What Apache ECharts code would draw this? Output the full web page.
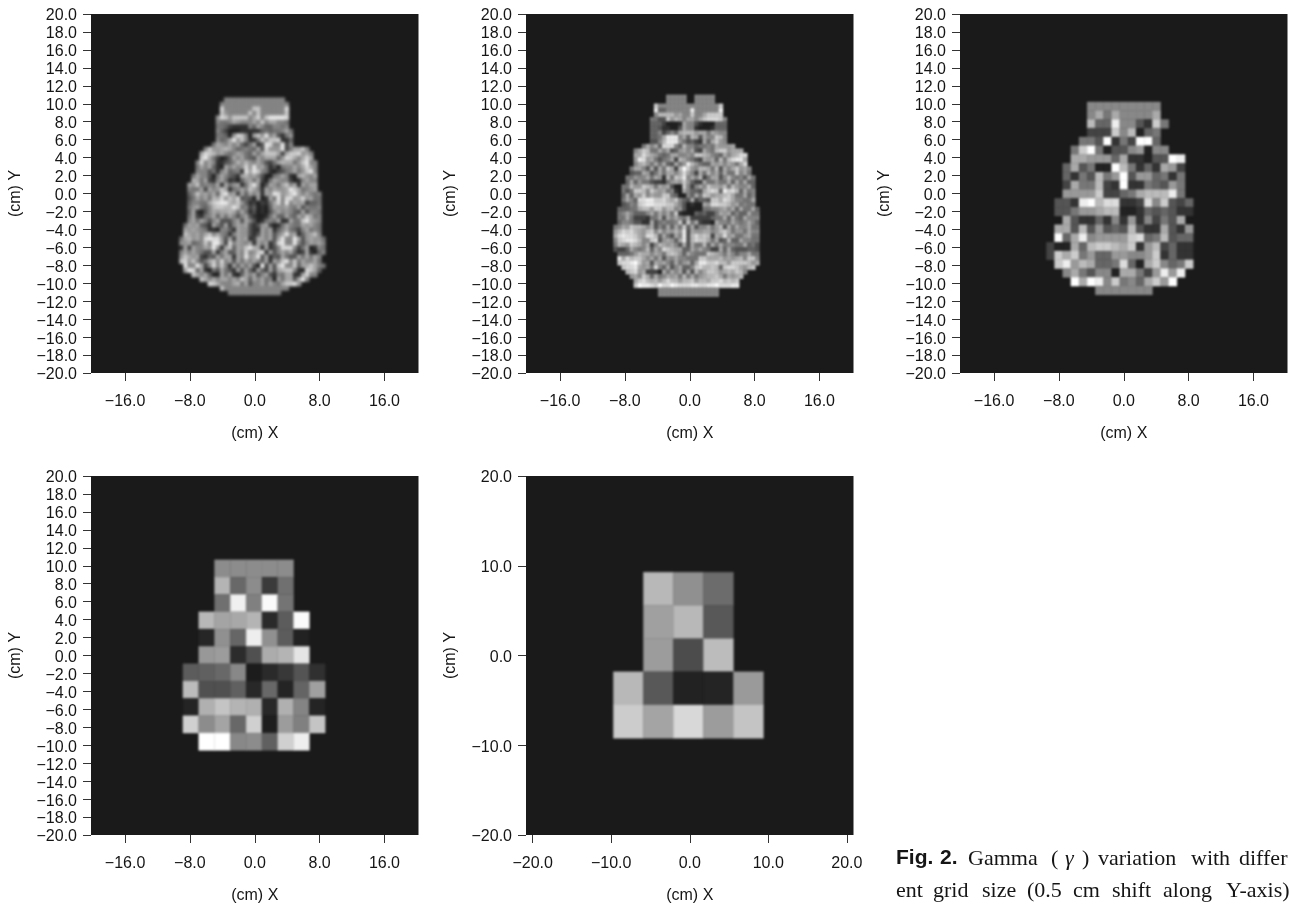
<!DOCTYPE html>
<html>
<head>
<meta charset="utf-8">
<style>
html,body{margin:0;padding:0;background:#fff;overflow:hidden}
#chart{width:1289px;height:907px}
#chart canvas:nth-of-type(2){filter:blur(1px)}
#chart canvas:nth-of-type(3){filter:blur(1.4px)}
</style>
<script src="https://cdn.jsdelivr.net/npm/echarts@6/dist/echarts.min.js"></script>
</head>
<body>
<div id="chart"></div>
<script>
// Grey level of each cell. One hex digit per cell, blank = no cell, "_" only groups digits.
const grid025Rows = [
"           888888_888888_888",
"          888888_888888_88888",
"          d88888_88cc88_8888d",
"          c98888_8c8c88_8888c",
"         9dc9cc_cc8ad8_ceeeed",
"         8778a9_888a8c_8aa887",
"         776433_3386a8_668878",
"         864222_333336_76778a7",
"         77629d_c82ac9_e8a5379",
"         867ae9_c8337c_9ccd336",
"        7a98a8_a647a3_5ed88e_48",
"      8c99ab_a86787_6a5d99_9e47aa_c8",
"     adcb9a_878a97_6a7acc_ca4acc_d9a8",
"     cea742_36a8a7_65a8aa_a69dca_8ada",
"    8d8a83_3568b9_b98a85_47abaa_79ce88",
"    7a8a63_2a8a89_d9e9a7_352788_a8ada8",
"    888573_8a6783_eaec87_324578_a79ce8",
"   7a8852_7a8653_ab9a85_2278a8_32ab98_a",
"   ba7a43_8a7342_69a7a4_27a988_4238a8_8",
"  a9c788_7a3a79_a37be9_25a97a_c8a3a8_aa",
"  877a4a_89ca37_8a8ca8_3a8a99_aeca78_9a",
"  68c9a8_a6ce9a_4a6a8a_3a9ed9_acea8a_878",
"  57a8a7_bad9ca_d5652a_23a7e8_dd9ad9_a77",
"  68877a_cdeeba_c96342_437ad8_e8a9a4_667",
"  79a768_bccbbe_c78462_326a99_a87a58_778",
"  6a3258_a9aaba_7a7352_3258a8_9865a5_887",
"  7a4378_a6a7a8_58a532_237a66_a76a8c_a78",
"  8a7a85_8a5558_a5a852_3787a3_3a77ce_a98",
" 7a9a65_3a75a4_8a9a53_59a423_7a877a_9a87",
" a9a987_332886_3a9953_3a8a36_8a7648_a787",
" ca9a8a_c8a873_8a9953_5a8a58_ae9a36_9ac8",
"7ab9a8_dedd95_a4a9a3_4aa8a5_ae88ea_59a997",
"99a678_c8eea4_d8a98a_3a8a36_de88e8_58a9a8",
"3a4a88_a9e93a_c6a9ce_ba3a35_8ddd84_7a2387",
"8a8a87_55a38a_56a8d8_9ce3a5_8a8a63_4a3268",
"9ca9a4_365a7a_a3a8e9_ae5a36_5a755a_7a7a8",
"cd9c85_7ac8d8_a5a7a8_a86a3a_8ce8c7_a88a7",
" e88ea4_8d8c83_a6a7a5_2f4a5c_e88c6a_aca87",
" aed6a3_275a75_3a5a63_a64a5a_bcc832_dca6",
"   ca8a62_2a7a32_6a8a58_a5387a_a33ad8_8",
"     ca8a8a_a8a8ca_6a8a78_2a7aa5_ae8",
"       dca888_ab7a58_8a7a87_accd9",
"          c88888_888888_88888",
"            888888_888888_8"
];
const grid05Rows = [
"             88888  88888",
"             88888  88888",
"          c88888_888888_8888c",
"          e66888_888e88_8888e",
"          8bbbb9_a88c88_acccc",
"         7755c9_ba8aa8_acdddc8",
"         666422_23a885_3222666",
"         665332_25a883_2223666",
"         668468_6abbb9_aa7a988",
"         667aee_e8a6ba_5a88cb8",
"         558bee_e97564_3a6ac98",
"       7a8a6d_dd86b8_867787_a999a",
"     8acb77_a8a569_a8a54a_87bcc9_aaa",
"     aadba9_767aa8_898ccb_a876a8_abdd",
"     9ed9a7_578a4b_a8754a_9a6b7b_deea",
"     8ab97a_7a65a7_9eb976_6a9a8a_97ad",
"    7aa85a_5a7ca4_bfc98b_ba7b5a_8ac9a8",
"    566a95_7a7aa8_ada84a_7b8a6a_77c8a7",
"   77988a_7a93b7_cbe8a8_b47aa5_8b8786_a7",
"   6a6977_544379_a9c964_4a7797_7a6a7a_66",
"  77b99c_ba7a9a_522c84_8a8caa_9b7b98_8a6",
"  757ccb_8ca9a7_832a86_65acdc_6ecdb6_a78",
"  6a6a9c_8a99cc_762286_a7cb9a_abca77_a68",
"  7a86dd_eeccdb_ac865a_4665cc_adca88_77a",
"  5687cd_eedddc_ca8523_22a9dd_ccb9a7_877",
" 66677a_bb9cc9_bb8952_222778_89a8a6_a77a6",
" 78a866_68a7a8_a7c322_265644_7a9a68_66a77",
" 77a744_4377a5_a8a87a_444446_77a6a7_6a888",
" 688755_33a578_778c5c_7a4332_a887a8_78a86",
"78a9cb_ba8a58_6a6a7c_6a588a_79b5a7_a88a77",
"9bdcdb_a9bc8b_8a9b9e_5a99aa_89bca7_997a88",
"adeddc_a9ddb6_a75a8e_5bdbcb_4a9d9a_779a77",
"8cdeed_b88cd5_9a96ae_5bdcca_7a56b6_6a8877",
"7ba9cb_a8a48b_a9a85a_5a77b6_a7a788_77a675",
"5446a8_78b6a8_dcbaa6_6a8a87_44a6a6_555665",
" 66679b_aa8a97_bcb96a_8777cb_a97a86_88a77",
" eadbcc_a8a7a5_98a887_77ccaa_ab9a9a_b8cc8",
" cddefc_9a5a9a_86a79a_6aeecc_dbb9cc_ccb9a",
"  cddea9_a7d86a_58a668_cdbbcb_6cddca_9bc",
"   bcd9a4_442a7a_8a5a5b_8accb9_abacb8",
"    9a8ca6_a78a9a_7b7a79_abbca7_a9ab",
"     acdbab_9bdbb9_bbc9bb_accdbc_bc",
"     cfeedc_fddfed_ddeedd_eefddd_ee",
"           888888_888888_888",
"           888888_888888_888"
];
const grid1Rows = [
"     888888888",
"     8a7a8888a",
"     b66e8853c7",
"     444c8b267",
"    775f374ff6",
"   7cf725589288",
"   aa9996a33255fe",
"  6a5722fb7363a94",
"  6375b79f5996737",
"  4a77b43f3376597",
"  9999c4467abbbe7",
" 553efbdd334d8c546",
" 55799abb223656533",
"  a5336383938475a",
" aa5b59565b533a539",
" f6ae89999cd67b566",
"422a6bccbac39b4633",
"4cac796699889c3633",
" ce9ba667d62ac867c",
"  8a75882aa749e9e",
"   fafe8c786ac9f",
"      8888888"
];
const grid2Cells = [
[null,null,140,140,140,140,140,null,null],
[null,null,180,104,140,58,112,null,null],
[null,null,112,240,128,250,116,null,null],
[null,184,164,168,180,42,92,250,null],
[null,38,144,102,238,144,92,34,null],
[null,152,156,44,80,172,180,228,null],
[92,96,104,136,28,42,56,84,48],
[188,80,80,96,40,104,36,100,160],
[36,176,196,180,176,40,176,132,36],
[208,140,164,104,208,30,156,128,196],
[null,255,255,136,140,96,208,238,null]
];
const grid4Cells = [
[null,184,144,108,null],
[null,160,184,88,null],
[null,156,76,188,null],
[184,88,34,36,154],
[204,164,216,156,196]
];
const xTicksFine = [-16,-8,0,8,16];
const xTicksCoarse = [-20,-10,0,10,20];
const xAxisTitle = "(cm) X";
const yAxisTitle = "(cm) Y";
const captionFig = ["Fig.","2."];
const captionLine1 = ["Gamma","(","\u03B3",")","variation","with","differ"];
const captionLine2 = ["ent","grid","size","(0.5","cm","shift","along","Y-axis)"];

const GREY_SCALE = 17;
function fromHex(rows){
  return rows.map(r => Array.from(r.replace(/_/g,"")).map(ch => ch === " " ? null : parseInt(ch,16)*GREY_SCALE));
}
const panels = [
  {left:91,  top:14,  rows:fromHex(grid025Rows), x0:-9.28, dx:0.5,   y0:10.68, dy:0.5,   xr:20.2,  xt:xTicksFine,  yi:2, z:2},
  {left:526, top:14,  rows:fromHex(grid05Rows),  x0:-9.4,  dx:0.5,   y0:11.0,  dy:0.5,   xr:20.2,  xt:xTicksFine,  yi:2, z:1},
  {left:960, top:14,  rows:fromHex(grid1Rows),   x0:-9.54, dx:1.006, y0:10.2,  dy:0.977, xr:20.2,  xt:xTicksFine,  yi:2, z:1},
  {left:91,  top:476, rows:grid2Cells,           x0:-8.86, dx:1.95,  y0:10.66, dy:1.93,  xr:20.2,  xt:xTicksFine,  yi:2, z:1},
  {left:526, top:476, rows:grid4Cells,           x0:-9.72, dx:3.82,  y0:9.28,  dy:3.7,   xr:20.85, xt:xTicksCoarse,yi:10,z:1}
];
const fmt = v => Number(v).toFixed(1).replace("-","\u2212");
const FONT = '"Liberation Sans", Arial, sans-serif';
const INK = '#151515';
const axisCommon = {
  axisLine:{show:false,onZero:false},
  splitLine:{show:false},
  axisTick:{show:true,length:8,lineStyle:{color:'#333',width:1}},
  nameLocation:'middle',
  nameTextStyle:{fontFamily:FONT,fontSize:16,color:INK}
};
const serif='22px "Liberation Serif", serif';
const capText=(text,left,top,font)=>({type:'text',left,top,style:{text,font:font||serif,fill:INK}});
const BOLD='bold 21px "Liberation Sans Narrow", "Liberation Sans", sans-serif';
const line1X=[968,1051,1065,1082,1098,1191,1239];
const line2X=[896,933,982,1027,1073,1112,1163,1226];
const option = {
  animation:false,
  backgroundColor:'#fff',
  grid:[], xAxis:[], yAxis:[], series:[],
  graphic:[
    capText(captionFig[0],896,848,BOLD),
    capText(captionFig[1],940,848,BOLD),
    ...captionLine1.map((t,i)=>capText(t,line1X[i],848,t==="\u03B3"?'italic 22px "Liberation Serif", serif':serif)),
    ...captionLine2.map((t,i)=>capText(t,line2X[i],880))
  ]
};
panels.forEach((p,i)=>{
  option.grid.push({left:p.left,top:p.top,width:327.5,height:359,show:true,backgroundColor:'#1a1a1a',borderWidth:0});
  option.xAxis.push(Object.assign({},axisCommon,{
    gridIndex:i,type:'value',min:-p.xr,max:p.xr,name:xAxisTitle,nameGap:53,
    axisTick:Object.assign({},axisCommon.axisTick,{customValues:p.xt}),
    axisLabel:{customValues:p.xt,formatter:fmt,fontFamily:FONT,fontSize:16,color:INK,margin:21}
  }));
  option.yAxis.push(Object.assign({},axisCommon,{
    gridIndex:i,type:'value',min:-20,max:20,interval:p.yi,name:yAxisTitle,nameGap:67,
    axisLabel:{formatter:fmt,fontFamily:FONT,fontSize:16,color:INK,margin:14,verticalAlign:'top',lineHeight:4,showMinLabel:true,showMaxLabel:true,hideOverlap:false}
  }));
  const data=[];
  p.rows.forEach((row,r)=>row.forEach((v,c)=>{
    if(v!==null) data.push([p.x0+p.dx*(c+0.5),p.y0-p.dy*(r+0.5),v]);
  }));
  option.series.push({
    type:'custom',coordinateSystem:'cartesian2d',xAxisIndex:i,yAxisIndex:i,zlevel:p.z,
    silent:true,clip:true,progressive:0,data,encode:{x:0,y:1},
    renderItem:(params,api)=>{
      const x=api.value(0),y=api.value(1),g=Math.min(255,Math.round(api.value(2)));
      const a=api.coord([x-p.dx/2,y+p.dy/2]),b=api.coord([x+p.dx/2,y-p.dy/2]);
      const col=`rgb(${g},${g},${g})`;
      return {type:'rect',shape:{x:a[0],y:a[1],width:b[0]-a[0],height:b[1]-a[1]},style:{fill:col,stroke:col,lineWidth:0.4}};
    }
  });
});
const chart=echarts.init(document.getElementById('chart'),null,{renderer:'canvas',width:1289,height:907});
chart.setOption(option);
</script>
</body>
</html>
